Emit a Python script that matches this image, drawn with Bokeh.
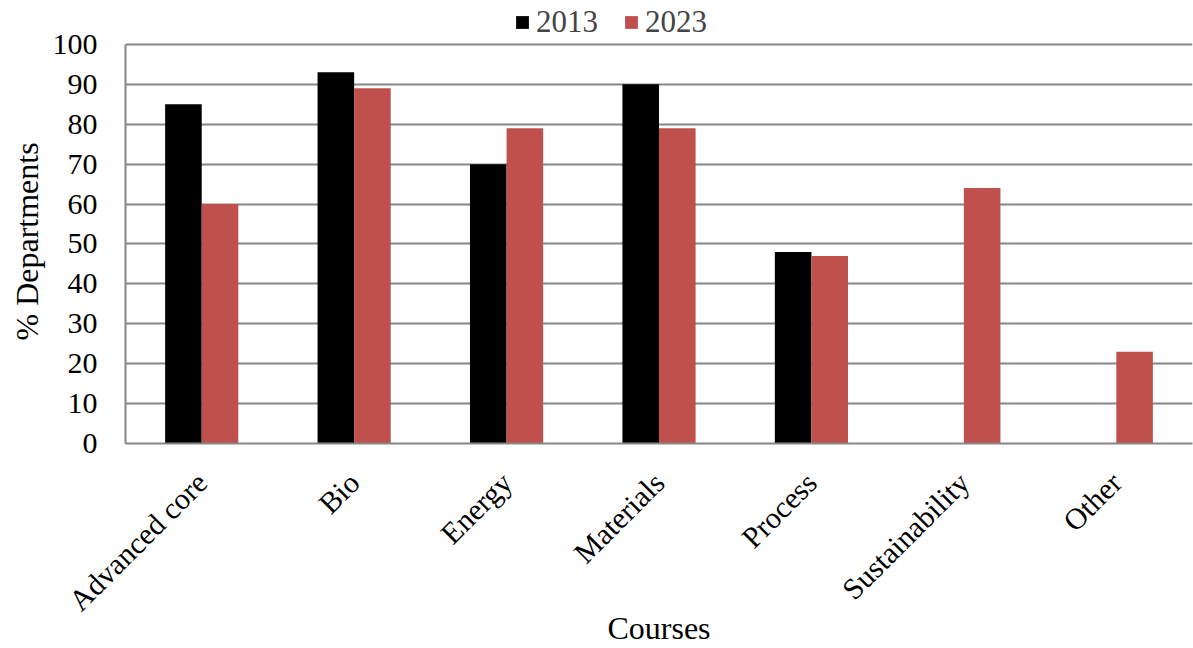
from bokeh.plotting import figure
from bokeh.models import (ColumnDataSource, FactorRange, Range1d, Legend, LegendItem,
                          SingleIntervalTicker, Title)
from bokeh.transform import dodge
from bokeh.embed import file_html
from bokeh.resources import INLINE
import math

categories = ["Advanced core", "Bio", "Energy", "Materials", "Process", "Sustainability", "Other"]
y2013 = [85, 93, 70, 90, 48, float("nan"), float("nan")]
y2023 = [60, 89, 79, 79, 47, 64, 23]
series_names = ["2013", "2023"]
x_title = "Courses"
y_title = "% Departments"

FONT = "Liberation Serif"
GRAY = "#868686"

src = ColumnDataSource(dict(cat=categories, a=y2013, b=y2023))

# frame spans canvas top to the zero line; the 0-100 scale occupies y 44..443 px
p = figure(width=1193, height=648, output_backend="svg", toolbar_location=None,
           x_range=FactorRange(*categories, range_padding=0), y_range=Range1d(0, 111.0),
           min_border_left=125, min_border_right=1, min_border_top=0, min_border_bottom=205)
p.outline_line_color = None
p.background_fill_color = "white"

r1 = p.vbar(x=dodge("cat", -0.12, range=p.x_range), top="a", width=0.24, source=src,
            fill_color="black", line_color=None)
r2 = p.vbar(x=dodge("cat", 0.12, range=p.x_range), top="b", width=0.24, source=src,
            fill_color="#C0504D", line_color=None)

p.xgrid.grid_line_color = None
p.ygrid.grid_line_color = GRAY
p.ygrid.grid_line_width = 2

for ax in (p.xaxis[0], p.yaxis[0]):
    ax.axis_line_color = GRAY
    ax.axis_line_width = 2
    ax.major_tick_line_color = None
    ax.minor_tick_line_color = None
    ax.major_label_text_font = FONT
    ax.major_label_text_font_size = "30px"
    ax.major_label_text_color = "black"
    ax.axis_label_text_font = FONT
    ax.axis_label_text_font_size = "32px"
    ax.axis_label_text_font_style = "normal"
    ax.axis_label_text_color = "black"

ya = p.yaxis[0]
ya.ticker = SingleIntervalTicker(interval=10)
ya.bounds = (0, 100)
ya.major_label_standoff = 22

# y axis title, placed along the 0-100 scale
p.add_layout(Title(text=y_title, align="left", offset=103, standoff=10,
                   text_font=FONT, text_font_size="32px", text_font_style="normal",
                   text_color="black"), "left")

xa = p.xaxis[0]
xa.axis_label = x_title
xa.major_label_orientation = math.pi / 4
xa.major_label_standoff = 28
xa.axis_label_standoff = -22

legend = Legend(items=[LegendItem(label=series_names[0], renderers=[r1]),
                       LegendItem(label=series_names[1], renderers=[r2])],
                orientation="horizontal", location=(389, 403),
                label_text_font=FONT, label_text_font_size="31px",
                glyph_width=16, glyph_height=16, label_standoff=6, spacing=25,
                padding=2, margin=0, border_line_color=None, background_fill_alpha=0)
p.add_layout(legend, "center")

open("out.html", "w").write(file_html(p, INLINE))
